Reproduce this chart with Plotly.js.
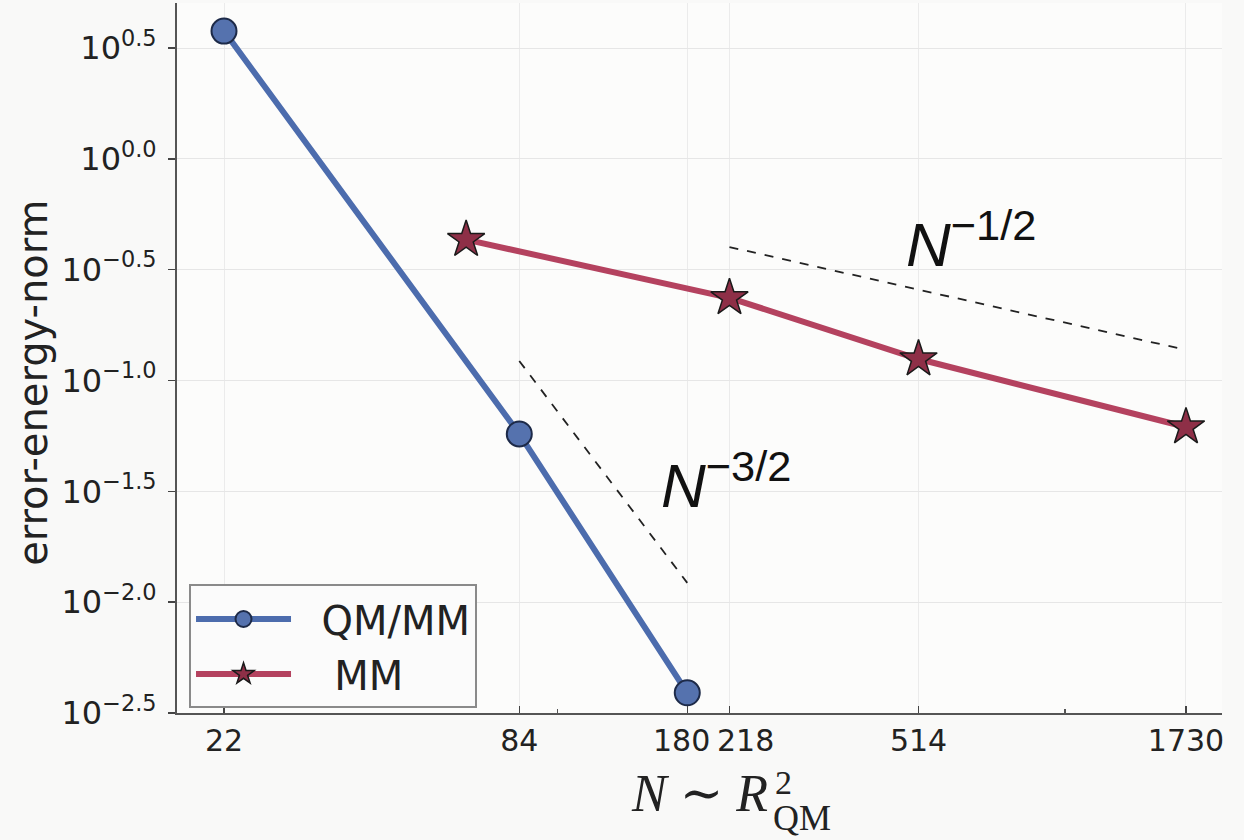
<!DOCTYPE html>
<html>
<head>
<meta charset="utf-8">
<script src="https://cdn.plot.ly/plotly-3.0.1.min.js"></script>
<style>
  html, body { margin: 0; padding: 0; background: #f9f9f8; }
  #chart { width: 1244px; height: 840px; }
</style>
</head>
<body>
<div id="chart"></div>
<script>
// ---- data ----
const qmmmN = [22, 84, 180];
const qmmmErr = [3.77, 0.0574, 0.0039];

const mmN = [66, 218, 514, 1730];
const mmErr = [0.432, 0.236, 0.125, 0.0617];

// reference slope guides (endpoints)
const guide32N = [84, 180];
const guide32Err = [0.1225, 0.01222];
const guide12N = [218, 1730];
const guide12Err = [0.400, 0.1374];

// tick labels
const xTickVals = [22, 84, 180, 218, 514, 1730];
const xTickText = ['22', '84', '180', '218', '514', '1730'];
// the two crowded labels (180, 218) are set beside their ticks, as in the reference
const crowdedTicks = [180, 218];
const crowdedShift = [-6, 16];
const yTickExps = [0.5, 0.0, -0.5, -1.0, -1.5, -2.0, -2.5];
const yTickText = ['10<sup>0.5</sup>', '10<sup>0.0</sup>', '10<sup>−0.5</sup>', '10<sup>−1.0</sup>',
                   '10<sup>−1.5</sup>', '10<sup>−2.0</sup>', '10<sup>−2.5</sup>'];

const traces = [
  {
    x: qmmmN, y: qmmmErr, name: '\u00a0\u00a0QM/MM', type: 'scatter', mode: 'lines+markers',
    line: { color: '#4C6CAD', width: 6 },
    marker: { symbol: 'circle', size: 25, color: '#5572AE', line: { color: '#1d2a48', width: 2 } }
  },
  {
    x: mmN, y: mmErr, name: '\u00a0\u00a0\u00a0MM', type: 'scatter', mode: 'lines+markers',
    line: { color: '#B4425F', width: 6 },
    marker: { symbol: 'star', size: 28, color: '#8E2F47', line: { color: '#1a1a1a', width: 1.5 } }
  },
  {
    x: guide32N, y: guide32Err, type: 'scatter', mode: 'lines', showlegend: false, hoverinfo: 'skip',
    line: { color: '#222', width: 1.8, dash: 'dash' }
  },
  {
    x: guide12N, y: guide12Err, type: 'scatter', mode: 'lines', showlegend: false, hoverinfo: 'skip',
    line: { color: '#222', width: 1.8, dash: 'dash' }
  }
];

const crowdedLabels = crowdedTicks.map((v, i) => ({
  xref: 'x', yref: 'paper', x: Math.log10(v), y: 0, xshift: crowdedShift[i], yshift: -8,
  xanchor: 'center', yanchor: 'top', showarrow: false,
  text: xTickText[xTickVals.indexOf(v)],
  font: { family: 'DejaVu Sans, sans-serif', size: 30, color: '#222' }
}));

const layout = {
  width: 1244, height: 840,
  margin: { l: 177, r: 22, t: 3, b: 127 },
  paper_bgcolor: '#f9f9f8',
  plot_bgcolor: '#fcfcfb',
  font: { family: 'DejaVu Sans, sans-serif', color: '#222' },
  showlegend: true,
  legend: {
    x: 0.0115, y: 0.181, xanchor: 'left', yanchor: 'top',
    bgcolor: '#fbfbfb', bordercolor: '#8a8a8a', borderwidth: 2,
    font: { family: 'DejaVu Sans, sans-serif', size: 40, color: '#222' },
    itemwidth: 95
  },
  xaxis: {
    type: 'log',
    range: [1.2498, 3.309],
    tickmode: 'array', tickvals: xTickVals,
    ticktext: xTickText.map((t, i) => crowdedTicks.includes(xTickVals[i]) ? '' : t),
    tickangle: 0,
    tickfont: { size: 30, color: '#222' },
    ticks: 'inside', ticklen: 7, tickwidth: 1.5, tickcolor: '#444',
    showline: true, linecolor: '#555', linewidth: 2,
    showgrid: true, gridcolor: '#ebebeb', gridwidth: 1,
    zeroline: false,
    minor: { tickvals: [100, 1000], ticks: 'inside', ticklen: 4, tickcolor: '#555', showgrid: false }
  },
  yaxis: {
    type: 'log',
    range: [-2.5, 0.703],
    tickmode: 'array', tickvals: yTickExps.map(e => Math.pow(10, e)), ticktext: yTickText,
    tickfont: { size: 32, color: '#222' },
    ticklabelstandoff: 5,
    ticks: 'outside', ticklen: 7, tickwidth: 1.5, tickcolor: '#444',
    showline: true, linecolor: '#555', linewidth: 2,
    showgrid: true, gridcolor: '#e6e6e6', gridwidth: 1,
    zeroline: false
  },
  annotations: [
    {
      xref: 'paper', yref: 'paper', x: -0.1378, y: 0.465, xanchor: 'center', yanchor: 'middle',
      text: 'error-energy-norm', textangle: -90, showarrow: false,
      font: { family: 'DejaVu Sans, sans-serif', size: 40, color: '#222' }
    },
    {
      xref: 'paper', yref: 'paper', x: 0.5675, y: -0.1127, xanchor: 'right', yanchor: 'middle',
      text: '<i>N</i> ∼ <i>R</i>', showarrow: false,
      font: { family: 'Liberation Serif, DejaVu Serif, serif', size: 52, color: '#222' }
    },
    {
      xref: 'paper', yref: 'paper', x: 0.5700, y: -0.0972, xanchor: 'left', yanchor: 'middle',
      text: '2', showarrow: false,
      font: { family: 'Liberation Serif, DejaVu Serif, serif', size: 34, color: '#222' }
    },
    {
      xref: 'paper', yref: 'paper', x: 0.5680, y: -0.1479, xanchor: 'left', yanchor: 'middle',
      text: 'QM', showarrow: false,
      font: { family: 'Liberation Serif, DejaVu Serif, serif', size: 36, color: '#222' }
    },
    {
      xref: 'paper', yref: 'paper', x: 0.7600, y: 0.666, xanchor: 'center', yanchor: 'middle',
      text: '<i>N</i><sup>−1/2</sup>', showarrow: false,
      font: { family: 'Liberation Sans, Arial, sans-serif', size: 62, color: '#111' }
    },
    {
      xref: 'paper', yref: 'paper', x: 0.525, y: 0.327, xanchor: 'center', yanchor: 'middle',
      text: '<i>N</i><sup>−3/2</sup>', showarrow: false,
      font: { family: 'Liberation Sans, Arial, sans-serif', size: 62, color: '#111' }
    }
  ].concat(crowdedLabels)
};

Plotly.newPlot('chart', traces, layout, { displayModeBar: false, staticPlot: true });
</script>
</body>
</html>
